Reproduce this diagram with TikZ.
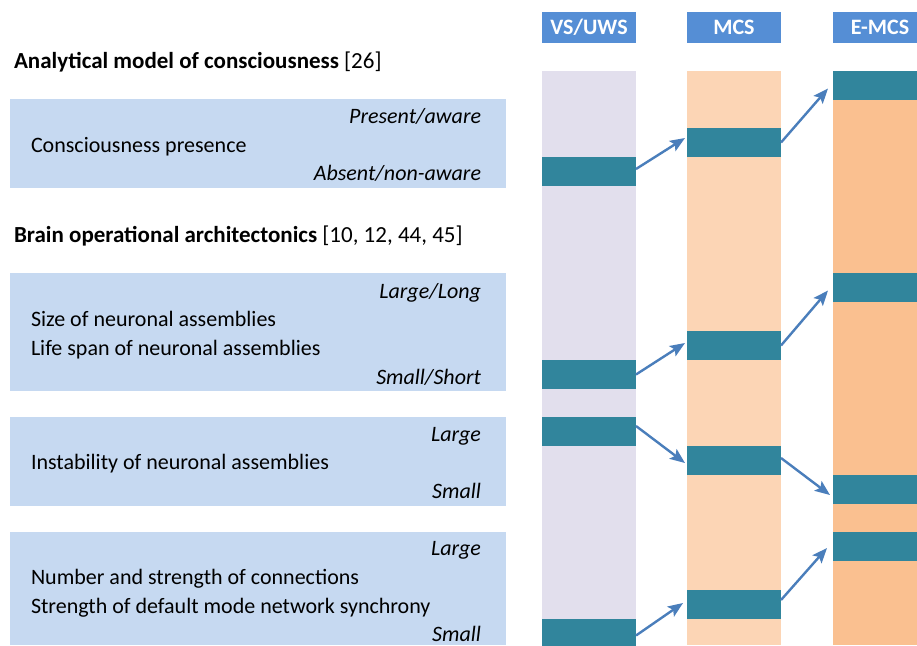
\documentclass[tikz,border=0pt]{standalone}
\usepackage{fontspec}
\setmainfont{Carlito}
\usetikzlibrary{arrows.meta}
\definecolor{hdrblue}{HTML}{558ED5}
\definecolor{teal}{HTML}{31859C}
\definecolor{lav}{HTML}{E2DFED}
\definecolor{peach}{HTML}{FCD5B5}
\definecolor{orng}{HTML}{FAC090}
\definecolor{panel}{HTML}{C6D9F1}
\definecolor{arrc}{HTML}{4A7EBB}
\tikzset{
  every node/.style={inner sep=0pt, outer sep=0pt, font=\fontsize{22}{26}\selectfont},
  box/.style={draw=none, anchor=north west},
  hdr/.style={box, fill=hdrblue, minimum width=94pt, minimum height=31pt, text=white, font=\fontsize{22}{26}\selectfont\bfseries},
  colv/.style={box, fill=lav, minimum width=94pt, minimum height=574pt},
  colm/.style={box, fill=peach, minimum width=94pt, minimum height=574pt},
  cole/.style={box, fill=orng, minimum width=94pt, minimum height=574pt},
  bar/.style={box, fill=teal, minimum width=94pt, minimum height=29pt},
  pan/.style={box, fill=panel, minimum width=496pt},
  lbl/.style={anchor=base west},
  ttl/.style={anchor=base west, font=\fontsize{23}{27}\selectfont},
  rlbl/.style={anchor=base east, font=\fontsize{22}{26}\selectfont\itshape},
  arr/.style={draw=arrc, line width=2.4pt, -{Stealth[length=15pt,width=12pt,inset=3pt]}}
}
\begin{document}
\begin{tikzpicture}[x=1pt,y=-1pt]
\clip (0,0) rectangle (917,645);
\fill[white] (0,0) rectangle (917,645);
% headers
\node[hdr] (hv) at (542,12) {VS/UWS};
\node[hdr] (hm) at (687,12) {MCS};
\node[hdr] (he) at (833,12) {E-MCS};
% columns
\node[colv] (cv) at (542,71) {};
\node[colm] (cm) at (687,71) {};
\node[cole] (ce) at (833,71) {};
% bars
\node[bar] (v1) at (542,157) {};
\node[bar] (v2) at (542,360) {};
\node[bar] (v3) at (542,417) {};
\node[bar] (v4) at (542,619) {};
\node[bar] (m1) at (687,128) {};
\node[bar] (m2) at (687,331) {};
\node[bar] (m3) at (687,446) {};
\node[bar] (m4) at (687,590) {};
\node[bar] (e1) at (833,71) {};
\node[bar] (e2) at (833,273) {};
\node[bar] (e3) at (833,475) {};
\node[bar] (e4) at (833,532) {};
% arrows
\draw[arr] ([yshift=2.5pt]v1.east) -- ([xshift=-2pt,yshift=4.5pt]m1.west);
\draw[arr] (m1.east) -- ([xshift=-5pt,yshift=-3pt]e1.west);
\draw[arr] (v2.east) -- ([xshift=-2pt,yshift=2.5pt]m2.west);
\draw[arr] (m2.east) -- ([xshift=-5pt,yshift=-3pt]e2.west);
\draw[arr] ([yshift=5.5pt]v3.east) -- ([xshift=-2pt,yshift=-2.5pt]m3.west);
\draw[arr] ([yshift=2.5pt]m3.east) -- ([xshift=-3pt,yshift=-5.5pt]e3.west);
\draw[arr] ([yshift=-2pt]v4.east) -- ([xshift=-4pt,yshift=1.5pt]m4.west);
\draw[arr] ([yshift=4.5pt]m4.east) -- ([xshift=-6pt,yshift=-1.5pt]e4.west);
% left panels
\node[pan, minimum height=89pt] (p1) at (10,99) {};
\node[pan, minimum height=118pt] (p2) at (10,273) {};
\node[pan, minimum height=89pt] (p3) at (10,417) {};
\node[pan, minimum height=113pt] (p4) at (10,532) {};
% titles
\node[ttl] (t1) at (14,68) {\textbf{Analytical model of consciousness} [26]};
\node[ttl] (t2) at (14,242) {\textbf{Brain operational architectonics} [10, 12, 44, 45]};
% panel 1
\node[rlbl] (p1a) at (481,123) {Present/aware};
\node[lbl] (p1b) at (31,152) {Consciousness presence};
\node[rlbl] (p1c) at (481,180) {Absent/non-aware};
% panel 2
\node[rlbl] (p2a) at (481,298) {Large/Long};
\node[lbl] (p2b) at (31,326) {Size of neuronal assemblies};
\node[lbl] (p2c) at (31,355) {Life span of neuronal assemblies};
\node[rlbl] (p2d) at (481,384) {Small/Short};
% panel 3
\node[rlbl] (p3a) at (481,441) {Large};
\node[lbl] (p3b) at (31,469) {Instability of neuronal assemblies};
\node[rlbl] (p3c) at (481,498) {Small};
% panel 4
\node[rlbl] (p4a) at (481,555) {Large};
\node[lbl] (p4b) at (31,584) {Number and strength of connections};
\node[lbl] (p4c) at (31,613) {Strength of default mode network synchrony};
\node[rlbl] (p4d) at (481,641) {Small};
\end{tikzpicture}
\end{document}
